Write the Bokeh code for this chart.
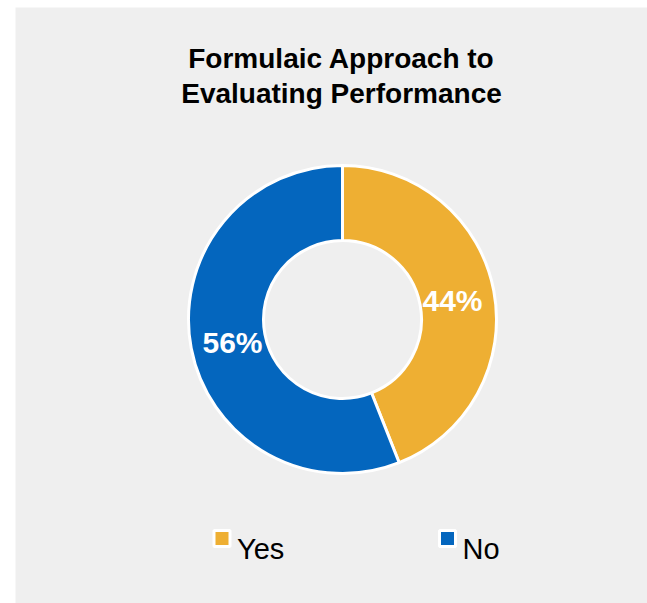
import numpy as np
from bokeh.plotting import figure
from bokeh.models import Range1d, ColumnDataSource
from bokeh.core.properties import value
from bokeh.embed import file_html
from bokeh.resources import INLINE

title_lines = ["Formulaic Approach to", "Evaluating Performance"]
categories = ["Yes", "No"]
shares = [44, 56]
colors = ["#EEAF33", "#0466BE"]

W, H = 647, 603
FONT = "Liberation Sans"

p = figure(width=W, height=H, output_backend="svg", toolbar_location=None,
           x_axis_location=None, y_axis_location=None,
           x_range=Range1d(15, W), y_range=Range1d(0, H - 7),
           min_border_left=15, min_border_top=7, min_border_right=0, min_border_bottom=0,
           background_fill_color="#EFEFEF", border_fill_color="white")
p.grid.visible = False
p.outline_line_color = None

def Y(py):
    return H - py

cx, cy = 342, Y(319)
frac = np.array(shares, dtype=float) / sum(shares)
ends = np.pi / 2 - 2 * np.pi * np.cumsum(frac)
starts = np.concatenate([[np.pi / 2], ends[:-1]])
src = ColumnDataSource(dict(start=starts, end=ends, color=colors))
p.annular_wedge(x=cx, y=cy, inner_radius=79, outer_radius=154,
                start_angle="start", end_angle="end", direction="clock",
                fill_color="color", line_color="white", line_width=3, source=src)

mid = (starts + ends) / 2
r_lab = 112
lx = cx + r_lab * np.cos(mid)
ly = cy + r_lab * np.sin(mid) - 2
p.text(x=lx, y=ly, text=[f"{s}%" for s in shares], text_align="center",
       text_baseline="middle", text_color="white", text_font=value(FONT),
       text_font_style="bold", text_font_size="30px")

p.text(x=[341, 341], y=[Y(58), Y(93)], text=title_lines, text_align="center",
       text_baseline="alphabetic", text_color="black", text_font=value(FONT),
       text_font_style="bold", text_font_size="28px")

leg_x = [221.5, 447]
p.scatter(x=leg_x, y=[Y(538)] * 2, marker="square", size=16,
          fill_color=colors, line_color="white", line_width=3)
p.text(x=[x + 15 for x in leg_x], y=[Y(548)] * 2, text=categories,
       text_align="left", text_baseline="alphabetic", text_color="black",
       text_font=value(FONT), text_font_size="29px")

open("out.html", "w").write(file_html(p, INLINE))
